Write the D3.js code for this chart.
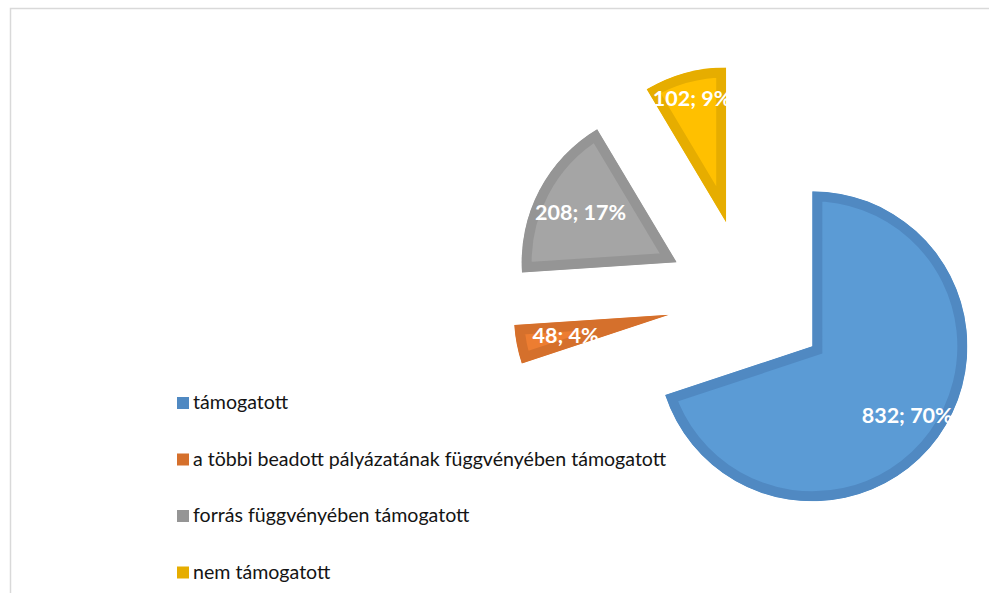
<!DOCTYPE html>
<html lang="hu">
<head>
    <meta charset="UTF-8">
    <title>Pályázatok megoszlása</title>
    <style>
        body {
            margin: 0;
            padding: 0;
            background: #ffffff;
            font-family: Lato, "Open Sans", sans-serif;
        }
        .legend-label {
            font-size: 19.6px;
            fill: #141414;
        }
        .slice-label {
            font-size: 21.5px;
            font-weight: bold;
            fill: #ffffff;
        }
    </style>
</head>
<body>
    <div id="chart"></div>

    <script src="https://d3js.org/d3.v7.min.js"></script>
    <script>
        // data
        const categories = [
            "támogatott",
            "a többi beadott pályázatának függvényében támogatott",
            "forrás függvényében támogatott",
            "nem támogatott"
        ];
        const values = [832, 48, 208, 102];
        const percents = [70, 4, 17, 9];

        const fills = ["#5B9BD5", "#ED7D31", "#A5A5A5", "#FFC000"];
        const borders = ["#5089C2", "#D5702C", "#959595", "#E6AD00"];

        const width = 989;
        const height = 593;

        // pie layout
        const cx = 747.5, cy = 299.5;
        const radius = 155;
        const explode = 80;
        const labelFactor = [0.755, 0.68, 0.70, 0.83];

        const svg = d3.select("#chart").append("svg")
            .attr("width", width)
            .attr("height", height);

        // chart area frame (only top and left edges are visible)
        svg.append("path")
            .attr("d", `M10.5,${height}V8.5H${width}`)
            .attr("fill", "none")
            .attr("stroke", "#d9d9d9")
            .attr("stroke-width", 1.5);

        const pie = d3.pie().sort(null).value(d => d)(values);
        const arc = d3.arc().innerRadius(0).outerRadius(radius);

        const slices = svg.append("g")
            .attr("transform", `translate(${cx},${cy})`)
            .selectAll("g")
            .data(pie)
            .enter().append("g")
            .attr("transform", d => {
                const mid = (d.startAngle + d.endAngle) / 2;
                return `translate(${Math.sin(mid) * explode},${-Math.cos(mid) * explode})`;
            });

        const defs = svg.append("defs");
        pie.forEach((d, i) => {
            defs.append("clipPath")
                .attr("id", "clip" + i)
                .append("path")
                .attr("d", arc(d));
        });

        // border drawn inside the slice only
        slices.append("path")
            .attr("d", arc)
            .attr("fill", (d, i) => fills[i])
            .attr("stroke", (d, i) => borders[i])
            .attr("stroke-width", 20)
            .attr("stroke-linejoin", "miter")
            .attr("clip-path", (d, i) => `url(#clip${i})`);

        slices.append("text")
            .attr("class", "slice-label")
            .attr("text-anchor", "middle")
            .attr("dy", "0.36em")
            .attr("x", (d, i) => Math.sin((d.startAngle + d.endAngle) / 2) * radius * labelFactor[i])
            .attr("y", (d, i) => -Math.cos((d.startAngle + d.endAngle) / 2) * radius * labelFactor[i])
            .text((d, i) => `${values[i]}; ${percents[i]}%`);

        // legend
        const legend = svg.append("g")
            .attr("transform", "translate(177,409)")
            .selectAll("g")
            .data(categories)
            .enter().append("g")
            .attr("transform", (d, i) => `translate(0,${i * 56.5})`);

        legend.append("rect")
            .attr("x", 0)
            .attr("y", -12)
            .attr("width", 12)
            .attr("height", 12)
            .attr("fill", (d, i) => borders[i]);

        legend.append("text")
            .attr("class", "legend-label")
            .attr("x", 16)
            .attr("y", 0)
            .text(d => d);
    </script>
</body>
</html>
